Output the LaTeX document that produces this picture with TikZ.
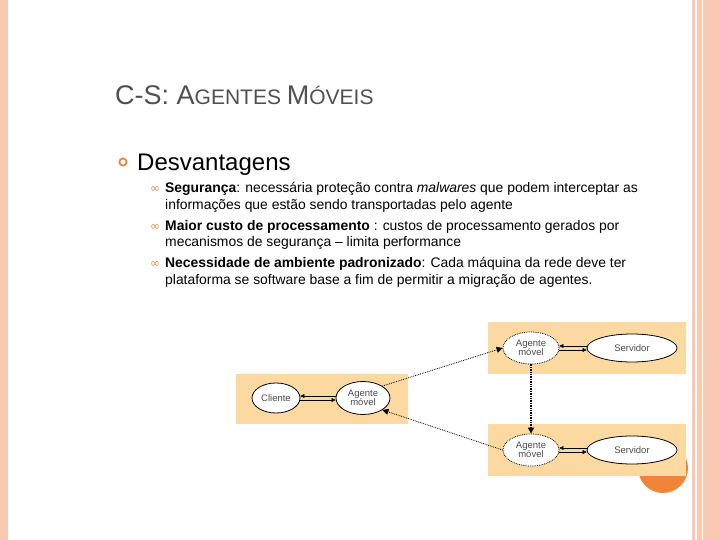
\documentclass[tikz,border=0pt]{standalone}
\usepackage{fontspec}
\setmainfont{Liberation Sans}
\newfontfamily\symfont{DejaVu Sans}
\usetikzlibrary{arrows.meta}
\usetikzlibrary{shapes.geometric}
\definecolor{PINK}{RGB}{249, 201, 180}
\definecolor{BOXFILL}{RGB}{251, 217, 160}
\definecolor{ORANGE}{RGB}{240, 133, 58}
\definecolor{TITLE}{RGB}{80, 80, 80}
\tikzset{
  ovalnode/.style={ellipse, draw, thick, fill=white, inner sep=0pt, font=\fontsize{9.5}{9.5}\selectfont, align=center, text=black!70},
  agentnode/.style={ovalnode, densely dotted},
  bodytext/.style={anchor=base west, font=\fontsize{13.9}{13.9}\selectfont, inner sep=0pt},
  subbullet/.style={anchor=base west, font=\fontsize{12}{12}\selectfont, inner sep=0pt, text=ORANGE},
  hop/.style={densely dotted, thick, -{Triangle[length=6pt,width=6pt]}},
  pipe/.style={-{Triangle[length=4pt,width=4pt]}}
}
\begin{document}
\begin{tikzpicture}[x=1pt, y=-1pt]
			\useasboundingbox (0,0) rectangle (720,540);
			\fill[PINK] (0,0) rectangle (8,540);
			\fill[PINK] (692,0) rectangle (720,540);
			\fill[white] (695,0) rectangle (697,540);
			\fill[white] (702,0) rectangle (703,540);
			\fill[ORANGE] (663,468) circle (25);
			\node[anchor=base west, inner sep=0pt, text=TITLE] (title) at (115,105) {\fontsize{27}{27}\selectfont C-S: A\fontsize{21}{21}\selectfont GENTES \fontsize{27}{27}\selectfont M\fontsize{21}{21}\selectfont ÓVEIS};
			\draw[ORANGE, line width=1.8pt] (123,162) circle (3.6);
			\node[anchor=base west, inner sep=0pt, font=\fontsize{24}{24}\selectfont] (head) at (137,171) {Desvantagens};
			\node[subbullet] (b1) at (150,193) {\symfont ∞};
			\node[subbullet] (b2) at (150,230) {\symfont ∞};
			\node[subbullet] (b3) at (150,267) {\symfont ∞};
			\node[bodytext] (l1) at (165,193) {\textbf{Segurança}: necessária proteção contra \textit{malwares} que podem interceptar as};
			\node[bodytext] (l2) at (165,210) {informações que estão sendo transportadas pelo agente};
			\node[bodytext] (l3) at (165,230) {\textbf{Maior custo de processamento} : custos de processamento gerados por};
			\node[bodytext] (l4) at (165,247) {mecanismos de segurança -- limita performance};
			\node[bodytext] (l5) at (165,267) {\textbf{Necessidade de ambiente padronizado}: Cada máquina da rede deve ter};
			\node[bodytext] (l6) at (165,284) {plataforma se software base a fim de permitir a migração de agentes.};
			% host boxes
			\fill[BOXFILL] (488,322) rectangle (686,374);
			\fill[BOXFILL] (236,374) rectangle (408,424);
			\fill[BOXFILL] (488,424) rectangle (686,476);
			\node[ovalnode, minimum width=48pt, minimum height=30pt] (cliente) at (276,398) {Cliente};
			\node[ovalnode, minimum width=54pt, minimum height=33pt] (agente) at (363,398) {Agente\\móvel};
			\node[agentnode, minimum width=56pt, minimum height=32pt] (agenteA) at (531,348) {Agente\\móvel};
			\node[ovalnode, minimum width=90pt, minimum height=28pt] (servA) at (632,348) {Servidor};
			\node[agentnode, minimum width=56pt, minimum height=32pt] (agenteB) at (531,450) {Agente\\móvel};
			\node[ovalnode, minimum width=90pt, minimum height=28pt] (servB) at (632,450) {Servidor};
			\draw[pipe] ([yshift=-2pt]cliente.east) -- ([yshift=-2pt]agente.west);
			\draw[pipe] ([yshift=2pt]agente.west) -- ([yshift=2pt]cliente.east);
			\draw[pipe] ([yshift=-2pt]agenteA.east) -- ([yshift=-2pt]servA.west);
			\draw[pipe] ([yshift=2pt]servA.west) -- ([yshift=2pt]agenteA.east);
			\draw[pipe] ([yshift=-2pt]agenteB.east) -- ([yshift=-2pt]servB.west);
			\draw[pipe] ([yshift=2pt]servB.west) -- ([yshift=2pt]agenteB.east);
			\draw[hop] (agente.north east) -- (agenteA.west);
			\draw[hop, line width=1.4pt] (agenteA.south) -- (agenteB.north);
			\draw[hop] (agenteB.west) -- (agente.south east);
		\end{tikzpicture}
\end{document}
